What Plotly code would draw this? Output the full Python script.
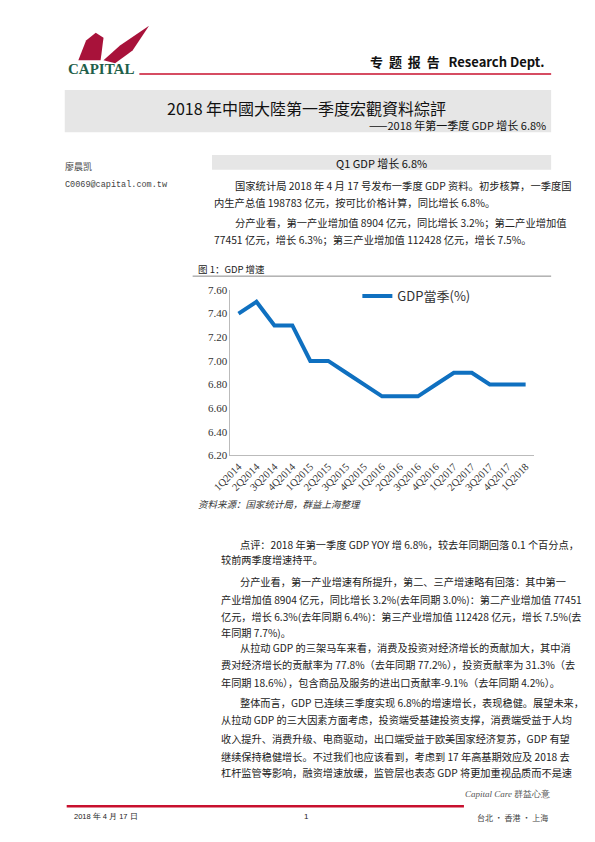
import plotly.graph_objects as go

quarters = ["1Q2014","2Q2014","3Q2014","4Q2014","1Q2015","2Q2015","3Q2015","4Q2015",
            "1Q2016","2Q2016","3Q2016","4Q2016","1Q2017","2Q2017","3Q2017","4Q2017","1Q2018"]
gdp = [7.4,7.5,7.3,7.3,7.0,7.0,6.9,6.8,6.7,6.7,6.7,6.8,6.9,6.9,6.8,6.8,6.8]
yticks = [6.2,6.4,6.6,6.8,7.0,7.2,7.4,7.6]

OFF = 8
W, H = 595 - 2 * OFF, 842 - 2 * OFF
def px(x): return (x - OFF) / W
def py(y): return 1 - (y - OFF) / H

CJK = "Noto Sans CJK SC"
fig = go.Figure()
fig.add_trace(go.Scatter(x=quarters, y=gdp, mode="lines", name="GDP當季(%)",
                         line=dict(color="#0F70C0", width=4)))

fig.update_layout(
    width=W, height=H, margin=dict(l=0, r=0, t=0, b=0),
    paper_bgcolor="white", plot_bgcolor="white",
    font=dict(family=CJK, color="#222"),
    showlegend=True,
    legend=dict(x=px(350), y=py(279), xanchor="left", yanchor="top",
                font=dict(size=13, color="#333", family=CJK), bgcolor="rgba(0,0,0,0)",
                itemwidth=30),
    xaxis=dict(domain=[px(219), px(532)], range=[-0.45, 16.45], showline=True,
               linecolor="#bbb", tickangle=-45, ticks="", showgrid=False,
               tickfont=dict(size=10.5, family="Liberation Serif", color="#333"),
               anchor="y"),
    yaxis=dict(domain=[py(456), py(288)], range=[6.2, 7.6], tickvals=yticks,
               ticktext=[f"{v:.2f}" for v in yticks], showline=True, linecolor="#bbb",
               showgrid=False, ticks="", zeroline=False,
               tickfont=dict(size=11, family="Liberation Serif", color="#333")),
)

shapes = []
shapes.append(dict(type="line", xref="paper", yref="paper", x0=px(125), x1=px(550),
                   y0=py(69), y1=py(69), line=dict(color="#C8102E", width=1.5)))
shapes.append(dict(type="rect", xref="paper", yref="paper", x0=px(48), x1=px(550),
                   y0=py(128), y1=py(85), fillcolor="#E6E6E6", line=dict(width=0)))
shapes.append(dict(type="rect", xref="paper", yref="paper", x0=px(200), x1=px(550),
                   y0=py(166), y1=py(151), fillcolor="#E6E6E6", line=dict(width=0)))
shapes.append(dict(type="line", xref="paper", yref="paper", x0=px(180), x1=px(550),
                   y0=py(274), y1=py(274), line=dict(color="#888", width=1)))
shapes.append(dict(type="line", xref="paper", yref="paper", x0=px(50), x1=px(460),
                   y0=py(812), y1=py(812), line=dict(color="#C8102E", width=2.5)))
shapes.append(dict(type="path", xref="paper", yref="paper",
                   path=f"M {px(62)},{py(55)} L {px(70)},{py(35)} L {px(80)},{py(27)} L {px(88)},{py(32)} "
                        f"L {px(85)},{py(55)} Z", fillcolor="#A8123A", line=dict(width=0)))
shapes.append(dict(type="path", xref="paper", yref="paper",
                   path=f"M {px(88)},{py(55)} L {px(105)},{py(40)} L {px(135)},{py(20)} L {px(118)},{py(45)} "
                        f"L {px(100)},{py(58)} Z", fillcolor="#A8123A", line=dict(width=0)))
fig.update_layout(shapes=shapes)

ann = []
def T(x, y, s, size=10.5, anchor="left", color="#222", family=CJK):
    ann.append(dict(xref="paper", yref="paper", x=px(x), y=py(y), text=s, showarrow=False,
                    xanchor=anchor, yanchor="middle", font=dict(size=size, color=color, family=family)))

T(85, 64, "<b>CAPITAL</b>", 15, "center", "#1F5F4A", "Liberation Serif")
T(545, 56, "<b>专  题  报  告   Research Dept.</b>", 13, "right", "#111")
T(297, 103, "2018 年中國大陸第一季度宏觀資料綜評", 16, "center", "#111")
T(547, 121, "——2018 年第一季度 GDP 增长 6.8%", 11, "right", "#111")
T(46, 163, "廖晨凯", 9, "left", "#444")
T(46, 182, "C0069@capital.com.tw", 8.5, "left", "#444", "Liberation Mono")
T(375, 159, "Q1 GDP 增长 6.8%", 11, "center", "#111")
body1 = [(222, 182, "国家统计局 2018 年 4 月 17 号发布一季度 GDP 资料。初步核算，一季度国"),
         (200, 199, "内生产总值 198783 亿元，按可比价格计算，同比增长 6.8%。"),
         (222, 220, "分产业看，第一产业增加值 8904 亿元，同比增长 3.2%；第二产业增加值"),
         (200, 237, "77451 亿元，增长 6.3%；第三产业增加值 112428 亿元，增长 7.5%。")]
for x, y, s in body1:
    T(x, y, s, 10.3)
T(183, 267, "图 1：GDP 增速", 9.5)
T(183, 505, "<i>资料来源：国家统计局，群益上海整理</i>", 9.5, color="#333")
body2 = [(227, 546, "点评：2018 年第一季度 GDP YOY 增 6.8%，较去年同期回落 0.1 个百分点，"),
         (207, 562, "较前两季度增速持平。"),
         (227, 584, "分产业看，第一产业增速有所提升，第二、三产增速略有回落：其中第一"),
         (207, 602, "产业增加值 8904 亿元，同比增长 3.2%(去年同期 3.0%)：第二产业增加值 77451"),
         (207, 619, "亿元，增长 6.3%(去年同期 6.4%)：第三产业增加值 112428 亿元，增长 7.5%(去"),
         (207, 636, "年同期 7.7%)。"),
         (227, 651, "从拉动 GDP 的三架马车来看，消费及投资对经济增长的贡献加大，其中消"),
         (207, 668, "费对经济增长的贡献率为 77.8%（去年同期 77.2%），投资贡献率为 31.3%（去"),
         (207, 686, "年同期 18.6%），包含商品及服务的进出口贡献率-9.1%（去年同期 4.2%）。"),
         (227, 707, "整体而言，GDP 已连续三季度实现 6.8%的增速增长，表现稳健。展望未来，"),
         (207, 724, "从拉动 GDP 的三大因素方面考虑，投资端受基建投资支撑，消费端受益于人均"),
         (207, 743, "收入提升、消费升级、电商驱动，出口端受益于欧美国家经济复苏，GDP 有望"),
         (207, 761, "继续保持稳健增长。不过我们也应该看到，考虑到 17 年高基期效应及 2018 去"),
         (207, 778, "杠杆监管等影响，融资增速放缓，监管层也表态 GDP 将更加重视品质而不是速")]
for x, y, s in body2:
    T(x, y, s, 10.2)
T(55, 822, "2018 年 4 月 17 日", 7.5, family="Liberation Sans")
T(297, 822, "1", 8, "center", family="Liberation Sans")
T(505, 800, "<i>Capital Care</i> 群益心意", 9, "center", "#555", "Liberation Serif")
T(510, 823, "台北 · 香港 · 上海", 8, "center", "#444")
fig.update_layout(annotations=ann)

fig.write_html("out.html")
